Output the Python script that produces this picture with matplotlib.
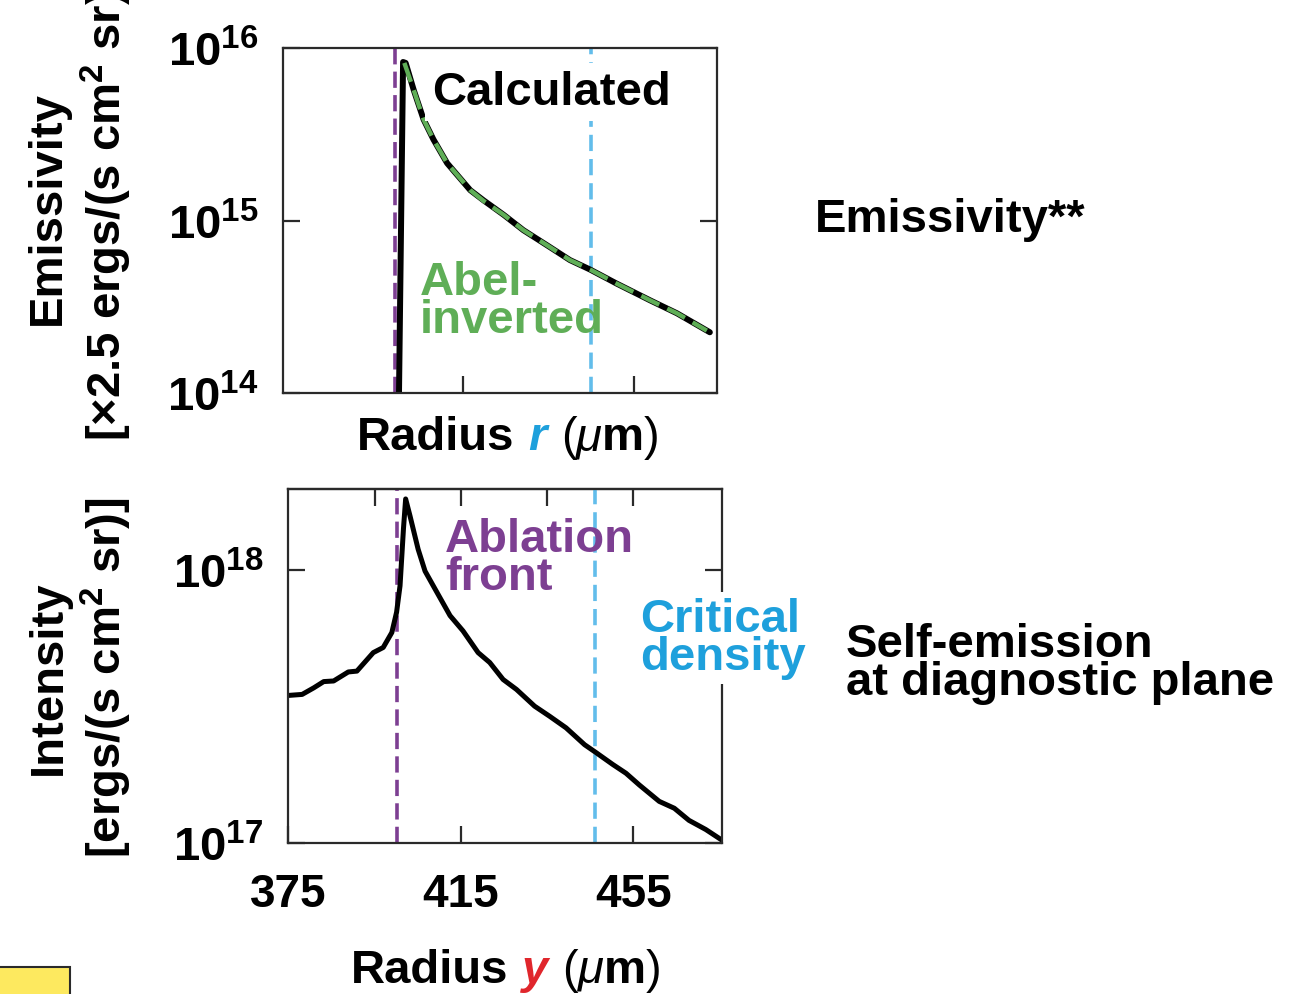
import matplotlib
matplotlib.use("Agg")
import matplotlib.pyplot as plt
from matplotlib.patches import Rectangle
from matplotlib.ticker import NullLocator

plt.rcParams["font.family"] = ["Liberation Sans", "DejaVu Sans"]
plt.rcParams["font.weight"] = "bold"
plt.rcParams["axes.labelweight"] = "bold"
plt.rcParams["mathtext.fontset"] = "custom"
plt.rcParams["mathtext.rm"] = "Liberation Sans:bold"
plt.rcParams["mathtext.bf"] = "Liberation Sans:bold"
plt.rcParams["mathtext.it"] = "Liberation Sans:bold:italic"
plt.rcParams["mathtext.default"] = "rm"

# emissivity vs radius r (upper panel)
calc_r = [400.0, 401.0, 401.6, 403.5, 405.8, 408.1, 411.3, 416.7, 419.8, 424.5,
          429.1, 434.6, 440.0, 444.7, 451.0, 458.7, 465.0, 472.7]
calc_emis = [8e13, 8.3e15, 8.2e15, 5.7e15, 3.85e15, 2.95e15, 2.15e15, 1.5e15, 1.31e15, 1.08e15,
             8.8e14, 7.2e14, 5.9e14, 5.2e14, 4.3e14, 3.45e14, 2.9e14, 2.25e14]
abel_r = [401.3, 403.5, 405.8, 408.1, 411.3, 416.7, 419.8, 424.5, 429.1, 434.6,
          440.0, 444.7, 451.0, 458.7, 465.0, 472.0]
abel_emis = [8.2e15, 5.7e15, 3.85e15, 2.95e15, 2.15e15, 1.5e15, 1.3e15, 1.08e15, 8.8e14, 7.2e14,
             5.9e14, 5.2e14, 4.3e14, 3.45e14, 2.9e14, 2.3e14]

# self-emission intensity vs radius y (lower panel)
int_y = [375.0, 378.2, 380.9, 383.2, 385.5, 388.9, 390.9, 394.7, 397.0, 399.0,
         400.1, 400.9, 401.7, 402.2, 403.2, 405.1, 406.7, 408.6, 412.5, 415.5,
         419.0, 421.7, 424.8, 427.9, 432.1, 435.6, 439.4, 443.7, 446.4, 450.2,
         453.3, 456.4, 461.0, 464.5, 467.9, 471.8, 475.3]
intensity = [3.47e17, 3.50e17, 3.70e17, 3.90e17, 3.92e17, 4.23e17, 4.26e17, 4.98e17, 5.2e17, 5.9e17,
             7.0e17, 8.75e17, 1.42e18, 1.82e18, 1.58e18, 1.19e18, 9.9e17, 8.75e17, 6.8e17, 5.98e17,
             4.98e17, 4.58e17, 3.97e17, 3.65e17, 3.17e17, 2.91e17, 2.64e17, 2.29e17, 2.14e17, 1.94e17,
             1.80e17, 1.63e17, 1.42e17, 1.34e17, 1.21e17, 1.12e17, 1.03e17]

# ablation front / critical density positions
front_r, crit_r = 399.2, 445.0
front_y, crit_y = 400.2, 446.1

emis_ticks = [1e14, 1e15, 1e16]
emis_labels = [r"$10^{14}$", r"$10^{15}$", r"$10^{16}$"]
int_ticks = [1e17, 1e18]
int_labels = [r"$10^{17}$", r"$10^{18}$"]
r_ticks = [415, 455]
y_ticks = [375, 415, 455]
y_labels = ["375", "415", "455"]
y_top_ticks = [395, 415, 435, 455]

PURPLE = "#7d3f92"
CYAN_LINE = "#62bdeb"
CYAN_TEXT = "#1ea0dc"
GREEN = "#5fae57"
RED = "#e0262c"
INK = "#2a2a2a"

fig = plt.figure(figsize=(13, 9.95), dpi=100)
ax1 = fig.add_axes([0.2179, 0.6040, 0.3334, 0.3467])
ax2 = fig.add_axes([0.2218, 0.1518, 0.3334, 0.3558])


def style(ax):
    ax.set_yscale("log")
    ax.yaxis.set_minor_locator(NullLocator())
    ax.xaxis.set_minor_locator(NullLocator())
    for s in ax.spines.values():
        s.set_linewidth(1.6)
        s.set_color(INK)
    ax.tick_params(axis="both", direction="in", length=12, width=1.6, color=INK,
                   right=True, labelsize=34)
    ax.tick_params(axis="y", pad=18)
    ax.tick_params(axis="x", pad=21, labelsize=33)


# upper panel
style(ax1)
ax1.axvline(front_r, color=PURPLE, lw=2.6, dashes=(4.5, 2), zorder=1.5)
ax1.axvline(crit_r, color=CYAN_LINE, lw=2.6, dashes=(4.5, 2.2), zorder=1.5)
ax1.plot(calc_r, calc_emis, color="black", lw=4.3, zorder=2.5, solid_capstyle="round")
ax1.plot(abel_r, abel_emis, color=GREEN, lw=3.2, dashes=(4.5, 2), zorder=2.6)
ax1.set_xlim(373, 474.3)
ax1.set_ylim(1e14, 1e16)
ax1.set_xticks(r_ticks)
ax1.set_xticklabels([])
ax1.set_yticks(emis_ticks)
ax1.set_yticklabels(emis_labels)
ax1.set_ylabel("Emissivity\n[×2.5 ergs/(s cm$^2$ sr)]", fontsize=34)
ax1.yaxis.set_label_coords(-0.345, 0.54)

ax1.text(0.3431, 0.8377, "Calculated", transform=ax1.transAxes, fontsize=34,
         va="baseline", zorder=4,
         bbox=dict(boxstyle="square,pad=0.15", fc="white", ec="none"))
ax1.text(0.3154, 0.1768, "Abel-\ninverted", transform=ax1.transAxes, fontsize=34,
         color=GREEN, va="baseline", linespacing=0.82, zorder=4)

# lower panel
style(ax2)
ax2.axvline(front_y, color=PURPLE, lw=2.6, dashes=(4.5, 2), zorder=1.5)
ax2.axvline(crit_y, color=CYAN_LINE, lw=2.6, dashes=(4.5, 2.2), zorder=1.5)
ax2.plot(int_y, intensity, color="black", lw=3.6, zorder=2.5)
ax2.set_xlim(375, 475.5)
ax2.set_ylim(1e17, 1.98e18)
ax2.set_xticks(y_ticks)
ax2.set_xticklabels(y_labels)
ax2.set_yticks(int_ticks)
ax2.set_yticklabels(int_labels)
ax2.set_ylabel("Intensity\n[ergs/(s cm$^2$ sr)]", fontsize=34)
ax2.yaxis.set_label_coords(-0.356, 0.469)
top = ax2.secondary_xaxis("top")
top.set_xticks(y_top_ticks)
top.set_xticklabels([])
top.tick_params(direction="in", length=12, width=1.6, color=INK)
top.spines["top"].set_linewidth(1.6)
top.spines["top"].set_color(INK)

ax2.text(0.3616, 0.7175, "Ablation\nfront", transform=ax2.transAxes, fontsize=34,
         color=PURPLE, va="baseline", linespacing=0.82, zorder=4)
ax2.text(0.8115, 0.4915, "Critical\ndensity", transform=ax2.transAxes, fontsize=34,
         color=CYAN_TEXT, va="baseline", linespacing=0.82, zorder=4, clip_on=False,
         bbox=dict(boxstyle="square,pad=0.1", fc="white", ec="none"))


# axis titles made of differently styled pieces, chained left to right
def rich_label(x, y, pieces, size=34):
    text, color, fstyle, weight, gap = pieces[0]
    t = fig.text(x, y, text, color=color, fontstyle=fstyle, fontweight=weight,
                 fontsize=size, va="baseline")
    for text, color, fstyle, weight, gap in pieces[1:]:
        t = ax2.annotate(text, xy=(1, 0), xycoords=t, xytext=(gap, 0),
                         textcoords="offset points", va="bottom", color=color,
                         fontstyle=fstyle, fontweight=weight, fontsize=size)


rich_label(0.2746, 0.5477, [("Radius", "black", "normal", "bold", 0),
                            ("r", CYAN_TEXT, "italic", "bold", 10),
                            ("(", "black", "normal", "normal", 10),
                            ("μ", "black", "italic", "normal", 0),
                            ("m", "black", "normal", "bold", 0),
                            (")", "black", "normal", "normal", 0)])
rich_label(0.2700, 0.0121, [("Radius", "black", "normal", "bold", 0),
                            ("y", RED, "italic", "bold", 10),
                            ("(", "black", "normal", "normal", 10),
                            ("μ", "black", "italic", "normal", 0),
                            ("m", "black", "normal", "bold", 0),
                            (")", "black", "normal", "normal", 0)])

fig.text(0.6269, 0.7668, "Emissivity**", fontsize=34, va="baseline")
fig.text(0.6508, 0.3015, "Self-emission\nat diagnostic plane", fontsize=34,
         va="baseline", linespacing=0.82)

fig.patches.append(Rectangle((-0.01, -0.01), 0.0638, 0.0371, transform=fig.transFigure,
                             facecolor="#fde95f", edgecolor=INK, lw=1.5))

fig.savefig("out.png", dpi=100)
